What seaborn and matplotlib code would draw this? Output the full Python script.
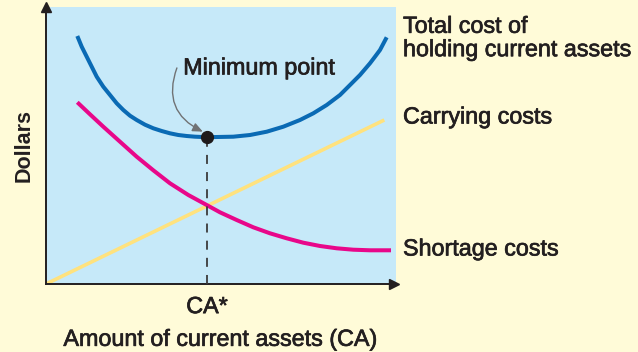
import matplotlib
matplotlib.use("Agg")
import matplotlib.pyplot as plt
import matplotlib.patheffects as pe
import seaborn as sns
import pandas as pd

# Current-asset level (x) and cost (y) readings for each curve, in arbitrary units
total_x = [0.894, 1.020, 1.163, 1.306, 1.449, 1.637, 1.829, 2.020, 2.209, 2.4,
           2.591, 2.829, 3.066, 3.306, 3.543, 3.780, 4.020, 4.257, 4.6, 5.351,
           5.829, 6.306, 6.780, 7.257, 7.637, 8.020, 8.4, 8.686, 8.971, 9.257,
           9.4, 9.543, 9.734]
total_y = [8.953, 8.567, 8.206, 7.845, 7.484, 7.123, 6.823, 6.523, 6.282, 6.076,
           5.921, 5.751, 5.621, 5.523, 5.440, 5.379, 5.343, 5.318, 5.30, 5.318,
           5.379, 5.498, 5.679, 5.921, 6.162, 6.462, 6.823, 7.184, 7.545, 7.968,
           8.206, 8.448, 8.906]

shortage_x = [0.894, 1.257, 1.637, 2.114, 2.591, 3.066, 3.543, 4.066, 4.591, 4.971,
              5.449, 5.923, 6.4, 6.877, 7.351, 7.829, 8.306, 8.780, 9.257, 9.857]
shortage_y = [6.560, 6.126, 5.679, 5.137, 4.596, 4.105, 3.635, 3.213, 2.852, 2.588,
              2.310, 2.047, 1.830, 1.650, 1.491, 1.372, 1.289, 1.238, 1.217, 1.217]

carrying_x = [0.0, 9.666]
carrying_y = [0.0, 5.921]

optimum_x = 4.6
optimum_y = 5.30

series_names = ["Total cost of\nholding current assets", "Carrying costs", "Shortage costs"]
series_colors = ["#0a6ab4", "#ffe27e", "#e8078a"]
series_widths = [2.9, 2.6, 2.9]
label_y_px = [38, 117, 249]

BG = "#fffbd8"
PANEL = "#c6e9f9"
INK = "#231f20"
FS = 16.8
# slight stroke gives the labels a medium weight
MEDIUM = [pe.withStroke(linewidth=0.5, foreground=INK)]

df = pd.concat([
    pd.DataFrame({"ca": total_x, "cost": total_y, "series": series_names[0]}),
    pd.DataFrame({"ca": carrying_x, "cost": carrying_y, "series": series_names[1]}),
    pd.DataFrame({"ca": shortage_x, "cost": shortage_y, "series": series_names[2]}),
])

sns.set_theme(style="white")
plt.rcParams["font.family"] = ["Liberation Sans", "DejaVu Sans"]

W, H = 638, 352
fig = plt.figure(figsize=(W / 100, H / 100), dpi=100, facecolor=BG)
ax = fig.add_axes([46 / W, 1 - 284 / H, 350 / W, 277 / H])
ax.set_facecolor(PANEL)
ax.set_xlim(0, 10)
ax.set_ylim(0, 10)

for name, color, lw in zip(series_names, series_colors, series_widths):
    sub = df[df["series"] == name]
    sns.lineplot(data=sub, x="ca", y="cost", ax=ax, color=color, linewidth=lw,
                 sort=False, estimator=None, legend=False,
                 solid_capstyle="butt", solid_joinstyle="round")

# dashed drop line from the minimum of total cost to the axis
ax.plot([optimum_x, optimum_x], [0, optimum_y], color="#3b3b3b", linewidth=1.3,
        dashes=(5, 4.5), zorder=3)
ax.plot([optimum_x], [optimum_y], marker="o", markersize=8.5, color="#1e1a1b", zorder=5)

ax.annotate("", xy=(optimum_x - 0.12, optimum_y + 0.2),
            xytext=(3.74, 7.80),
            arrowprops=dict(arrowstyle="-|>,head_length=0.5,head_width=0.22",
                            color="#707274", linewidth=1.0,
                            connectionstyle="arc3,rad=0.45", shrinkA=0, shrinkB=0))
ax.text(3.92, 7.80, "Minimum point", fontsize=FS, color=INK, va="center", ha="left",
        path_effects=MEDIUM)

# axes with arrow heads
for s in ["top", "right"]:
    ax.spines[s].set_visible(False)
for s in ["left", "bottom"]:
    ax.spines[s].set_color(INK)
    ax.spines[s].set_linewidth(1.4)
ax.plot([0], [1.0], marker="^", markersize=7, color=INK, transform=ax.transAxes,
        clip_on=False, zorder=6)
ax.plot([0.995], [0], marker=">", markersize=7, color=INK, transform=ax.transAxes,
        clip_on=False, zorder=6)

ax.set_xticks([optimum_x])
ax.set_xticklabels(["CA*"], fontsize=FS, color=INK, path_effects=MEDIUM)
ax.set_yticks([])
ax.tick_params(axis="x", length=0, pad=8)
ax.set_xlabel("Amount of current assets (CA)", fontsize=FS, color=INK, labelpad=7,
              path_effects=MEDIUM)
ax.set_ylabel("Dollars", fontsize=15.5, color=INK, fontweight="bold", labelpad=8)

for name, ypx in zip(series_names, label_y_px):
    fig.text(403 / W, 1 - ypx / H, name, fontsize=FS, color=INK, va="center",
             ha="left", linespacing=1.02, path_effects=MEDIUM)

fig.savefig("out.png", dpi=100, facecolor=BG)
